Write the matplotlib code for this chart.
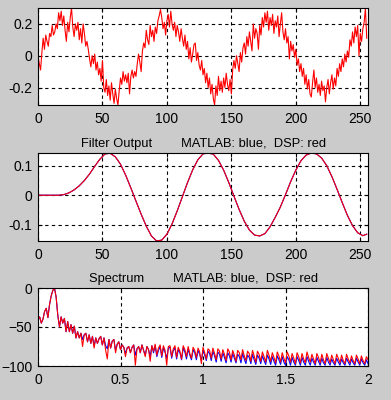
import numpy as np
import matplotlib
matplotlib.use("Agg")
import matplotlib.pyplot as plt

# noisy input, 256 samples
noisy = [
    0.00, -0.05, -0.09, 0.02, 0.11, 0.04, 0.13, 0.09, 0.06, 0.14, 0.12, 0.19, 0.13, 0.15, 0.20, 0.17,
    0.27, 0.22, 0.28, 0.19, 0.25, 0.16, 0.09, 0.21, 0.15, 0.24, 0.30, 0.18, 0.12, 0.20, 0.16, 0.21,
    0.10, 0.17, 0.08, 0.20, 0.14, 0.06, 0.09, 0.04, -0.02, -0.07, 0.00, -0.05, 0.01, -0.09, -0.04, -0.12,
    -0.08, -0.16, -0.03, -0.20, -0.23, -0.15, -0.25, -0.19, -0.28, -0.17, -0.24, -0.30, -0.21, -0.27, -0.31, -0.22,
    -0.14, -0.18, -0.10, -0.16, -0.12, -0.17, -0.11, -0.24, -0.13, -0.09, -0.14, -0.10, -0.13, -0.05, 0.01, -0.04,
    -0.10, 0.03, 0.08, 0.05, 0.16, 0.10, 0.07, 0.19, 0.12, 0.16, 0.09, 0.18, 0.14, 0.22, 0.25, 0.29,
    0.24, 0.17, 0.21, 0.13, 0.22, 0.26, 0.18, 0.28, 0.20, 0.16, 0.21, 0.12, 0.19, 0.15, 0.09, 0.17,
    0.11, 0.06, 0.13, 0.04, 0.09, -0.02, 0.05, -0.04, 0.01, 0.07, 0.08, -0.03, 0.02, -0.06, -0.09, -0.03,
    -0.12, -0.08, -0.17, -0.11, -0.20, -0.14, -0.24, -0.18, -0.27, -0.31, -0.19, -0.25, -0.13, -0.22, -0.16, -0.23,
    -0.14, -0.20, -0.11, -0.18, -0.22, -0.15, -0.24, -0.09, -0.03, -0.08, 0.00, -0.05, -0.10, 0.02, -0.04, 0.05,
    0.08, 0.01, 0.12, 0.06, 0.15, 0.09, 0.03, 0.20, 0.11, 0.17, 0.14, 0.04, 0.19, 0.13, 0.24, 0.18,
    0.27, 0.21, 0.28, 0.16, 0.24, 0.19, 0.26, 0.14, 0.22, 0.18, 0.25, 0.12, 0.20, 0.27, 0.15, 0.10,
    0.17, 0.08, 0.12, -0.02, 0.09, 0.03, 0.07, -0.01, 0.04, -0.06, -0.02, -0.10, -0.05, -0.13, -0.08, -0.18,
    -0.12, -0.21, -0.15, -0.24, -0.26, -0.17, -0.09, -0.20, -0.14, -0.23, -0.18, -0.25, -0.16, -0.22, -0.19, -0.29,
    -0.20, -0.15, -0.24, -0.17, -0.12, -0.21, -0.14, -0.19, -0.08, -0.13, -0.05, -0.10, -0.02, -0.07, 0.01, -0.04,
    0.03, -0.01, 0.10, 0.06, 0.15, 0.08, 0.18, 0.12, 0.19, 0.00, 0.14, 0.09, 0.17, 0.21, 0.30, 0.11,
]

# filter output, read every 4 samples
filt_n = [0, 4, 8, 12, 16, 20, 24, 28, 32, 36, 40, 44, 48, 52, 56, 60, 64, 68, 72, 76,
          80, 84, 88, 92, 96, 100, 104, 108, 112, 116, 120, 124, 128, 132, 136, 140,
          144, 148, 152, 156, 160, 164, 168, 172, 176, 180, 184, 188, 192, 196, 200,
          204, 208, 212, 216, 220, 224, 228, 232, 236, 240, 244, 248, 252, 255]
filt_matlab = [0, 0, 0, 0, 0, 0.002, 0.008, 0.018, 0.032, 0.050, 0.072, 0.098, 0.122, 0.140,
               0.142, 0.130, 0.105, 0.068, 0.025, -0.020, -0.064, -0.105, -0.138, -0.155,
               -0.152, -0.132, -0.097, -0.053, -0.005, 0.043, 0.086, 0.120, 0.140, 0.143,
               0.139, 0.118, 0.085, 0.043, -0.003, -0.048, -0.088, -0.118, -0.135, -0.138,
               -0.130, -0.107, -0.075, -0.040, 0.002, 0.046, 0.085, 0.117, 0.136, 0.143,
               0.140, 0.126, 0.100, 0.063, 0.020, -0.025, -0.068, -0.103, -0.127, -0.137, -0.132]
filt_dsp = list(filt_matlab)

# spectrum in dB, bins 0..2 step 0.01
spec_dsp = [
    -40, -37, -45, -40, -30, -26, -38, -21, -10, -3,
    0, -12, -35, -50, -37, -45, -39, -56, -43, -56,
    -47, -58, -49, -64, -56, -64, -58, -75, -60, -58,
    -69, -60, -71, -62, -77, -64, -71, -65, -62, -73,
    -64, -80, -91, -66, -77, -68, -66, -83, -72, -69,
    -79, -73, -76, -88, -77, -75, -83, -76, -73, -99,
    -78, -75, -83, -73, -80, -88, -75, -79, -94, -74,
    -81, -72, -86, -77, -73, -87, -74, -80, -99, -75,
    -74, -88, -78, -74, -89, -76, -81, -91, -74, -79,
    -88, -75, -84, -90, -76, -80, -89, -77, -82, -97,
    -76, -83, -91, -78, -80, -90, -77, -84, -92, -78,
    -81, -91, -79, -85, -93, -78, -82, -92, -80, -86,
    -94, -80, -83, -92, -79, -87, -93, -81, -84, -94,
    -80, -87, -95, -81, -85, -94, -82, -88, -95, -80,
    -86, -94, -83, -89, -96, -82, -87, -95, -83, -90,
    -96, -82, -87, -95, -84, -90, -97, -83, -88, -96,
    -84, -91, -96, -82, -89, -95, -85, -91, -97, -84,
    -89, -96, -85, -92, -97, -84, -90, -96, -86, -92,
    -97, -85, -90, -96, -86, -93, -97, -85, -91, -96,
    -87, -93, -97, -86, -91, -97, -87, -93, -97, -88,
    -92,
]
spec_matlab = [
    -40, -37, -45, -40, -30, -26, -38, -21, -10, -3,
    0, -12, -35, -50, -37, -45, -39, -56, -43, -56,
    -47, -58, -49, -64, -56, -64, -58, -66, -60, -58,
    -69, -60, -71, -62, -74, -64, -71, -65, -62, -73,
    -64, -74, -78, -66, -77, -68, -66, -80, -72, -69,
    -79, -73, -76, -84, -77, -75, -83, -76, -73, -86,
    -78, -75, -83, -73, -80, -86, -75, -79, -88, -74,
    -83, -74, -88, -80, -75, -89, -77, -82, -90, -77,
    -76, -90, -80, -77, -91, -79, -83, -92, -77, -82,
    -91, -78, -86, -92, -79, -83, -92, -80, -85, -93,
    -80, -86, -93, -81, -84, -93, -81, -87, -95, -82,
    -85, -94, -83, -89, -96, -83, -87, -95, -84, -90,
    -96, -85, -88, -96, -84, -91, -97, -86, -89, -97,
    -85, -92, -98, -86, -90, -97, -87, -93, -98, -86,
    -91, -98, -88, -94, -99, -87, -92, -98, -88, -95,
    -99, -88, -92, -99, -89, -95, -99, -88, -93, -99,
    -89, -95, -99, -88, -94, -99, -90, -95, -99, -89,
    -94, -99, -90, -96, -99, -89, -95, -99, -91, -96,
    -99, -90, -95, -99, -91, -96, -99, -90, -95, -99,
    -91, -96, -99, -90, -95, -99, -91, -96, -99, -92,
    -97,
]

n = np.arange(len(noisy))
freq = np.linspace(0, 2, len(spec_dsp))

title2 = "Filter Output        MATLAB: blue,  DSP: red"
title3 = "Spectrum        MATLAB: blue,  DSP: red"

plt.rcParams['font.family'] = ['Liberation Sans', 'DejaVu Sans']

fig = plt.figure(figsize=(3.91, 4.0), dpi=100, facecolor='#cbcbcb')
ax1 = fig.add_axes([0.0972, 0.7375, 0.844, 0.2425])
ax2 = fig.add_axes([0.0972, 0.3975, 0.844, 0.22])
ax3 = fig.add_axes([0.0972, 0.085, 0.844, 0.195])

def style(ax):
    ax.set_facecolor('white')
    ax.grid(True, color='black', linestyle=(0, (3, 3)), linewidth=0.8)
    ax.tick_params(direction='in', length=3, width=0.8, labelsize=10, pad=5,
                   top=True, right=True)
    ax.tick_params(axis='y', pad=4)
    for s in ax.spines.values():
        s.set_linewidth(0.8)

ax1.plot(n, noisy, color='red', lw=0.8)
ax1.set_xlim(0, 256)
ax1.set_ylim(min(noisy), max(noisy))
ax1.set_xticks([0, 50, 100, 150, 200, 250])
ax1.set_yticks([-0.2, 0, 0.2])
ax1.set_yticklabels(['-0.2', '0', '0.2'])
style(ax1)

ax2.plot(filt_n, filt_matlab, color='blue', lw=0.8)
ax2.plot(filt_n, filt_dsp, color='red', lw=0.8)
ax2.set_xlim(0, 256)
ax2.set_ylim(min(filt_matlab), max(filt_matlab))
ax2.set_xticks([0, 50, 100, 150, 200, 250])
ax2.set_yticks([-0.1, 0, 0.1])
ax2.set_yticklabels(['-0.1', '0', '0.1'])
ax2.set_title(title2, fontsize=9.3, pad=4)
style(ax2)

ax3.plot(freq, spec_matlab, color='blue', lw=0.8)
ax3.plot(freq, spec_dsp, color='red', lw=0.8)
ax3.set_xlim(0, 2)
ax3.set_ylim(-100, 0)
ax3.set_xticks([0, 0.5, 1, 1.5, 2])
ax3.set_xticklabels(['0', '0.5', '1', '1.5', '2'])
ax3.set_yticks([-100, -50, 0])
ax3.set_title(title3, fontsize=9.3, pad=4)
style(ax3)

fig.savefig("out.png", dpi=100, facecolor=fig.get_facecolor())
